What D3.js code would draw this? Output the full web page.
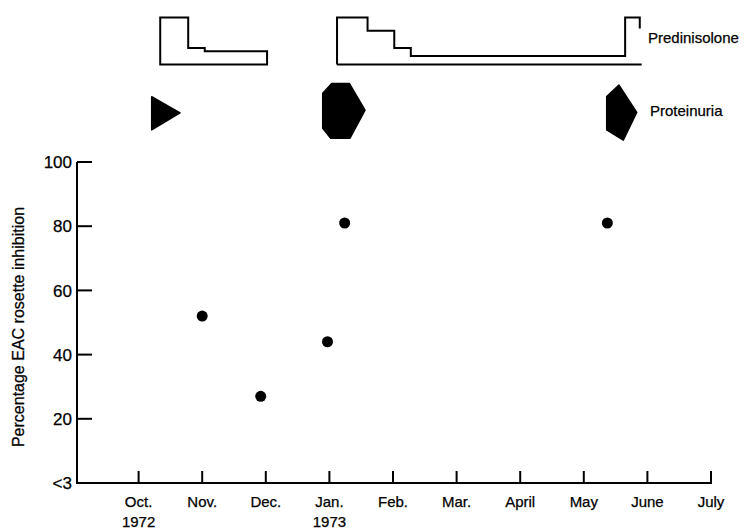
<!DOCTYPE html>
<html>
<head>
<meta charset="utf-8">
<script src="https://cdn.jsdelivr.net/npm/d3@7"></script>
<style>
  html, body { margin: 0; padding: 0; background: #fff; }
  svg text { font-family: "Liberation Sans", Arial, sans-serif; fill: #000; stroke: #000; stroke-width: 0.25px; }
</style>
</head>
<body>
<svg id="chart" width="753" height="529"></svg>
<script>
// ---- Data ----
// month index: 0 = Sep 1972, 1 = Oct 1972, ... 10 = July 1973
const monthTicks = [1, 2, 3, 4, 5, 6, 7, 8, 9, 10];
const monthLabels = ["Oct.", "Nov.", "Dec.", "Jan.", "Feb.", "Mar.", "April", "May", "June", "July"];
const yearTicks = [1, 4];
const yearLabels = ["1972", "1973"];

const yTicks = [0, 20, 40, 60, 80, 100];
const yTickLabels = ["<3", "20", "40", "60", "80", "100"];

// EAC rosette inhibition measurements
const pointMonths = [2.0, 2.92, 3.97, 4.24, 8.37];
const pointValues = [52, 27, 44, 81, 81];

// Prednisolone courses (relative dose levels)
const course1Months = [1.34, 1.78, 2.04, 3.02];
const course1Doses = [60, 21, 17];
const course2Months = [4.12, 4.60, 5.02, 5.28, 8.65, 8.88];
const course2Doses = [60, 43, 21, 11, 60, 46];
const course2BaseEnd = 8.91;

// Proteinuria episodes (polygon vertices: [month, relative level])
const proteinuria1 = [[1.206, 0.54], [1.651, -0.05], [1.206, -0.67]];
const proteinuria2 = [[4.036, 1.02], [4.313, 1.02], [4.560, 0.05], [4.324, -0.97], [4.021, -0.97], [3.895, -0.61], [3.895, 0.66]];
const proteinuria3 = [[8.553, 0.96], [8.832, -0.03], [8.621, -1.04], [8.360, -0.67], [8.360, 0.54]];

// ---- Chart ----
const svg = d3.select("#chart");
const x = d3.scaleLinear().domain([0, 10]).range([75, 711]);
const y = d3.scaleLinear().domain([0, 100]).range([483, 162]);
const doseY = d3.scaleLinear().domain([0, 60]).range([64.5, 17.5]);
const protY = d3.scaleLinear().domain([-1, 1]).range([139, 84]);

const axisX0 = 77;

// Y axis
svg.append("line")
  .attr("x1", axisX0).attr("x2", axisX0)
  .attr("y1", y(100)).attr("y2", y(0))
  .attr("stroke", "#000").attr("stroke-width", 2);
svg.selectAll(".ytick").data(yTicks).join("line")
  .attr("x1", axisX0).attr("x2", axisX0 + 15)
  .attr("y1", d => y(d)).attr("y2", d => y(d))
  .attr("stroke", "#000").attr("stroke-width", 2);
svg.selectAll(".ylab").data(yTicks).join("text")
  .attr("x", 72).attr("y", d => y(d))
  .attr("dy", "0.36em")
  .attr("text-anchor", "end")
  .attr("font-size", 17)
  .text((d, i) => yTickLabels[i]);

// X axis
svg.append("line")
  .attr("x1", axisX0 - 1).attr("x2", x(10) + 1)
  .attr("y1", y(0)).attr("y2", y(0))
  .attr("stroke", "#000").attr("stroke-width", 2);
svg.selectAll(".xtick").data(monthTicks).join("line")
  .attr("x1", d => x(d)).attr("x2", d => x(d))
  .attr("y1", y(0)).attr("y2", y(0) - 12)
  .attr("stroke", "#000").attr("stroke-width", 2);
svg.selectAll(".xlab").data(monthTicks).join("text")
  .attr("x", d => x(d)).attr("y", 507)
  .attr("text-anchor", "middle")
  .attr("font-size", 15)
  .text((d, i) => monthLabels[i]);
svg.selectAll(".yearlab").data(yearTicks).join("text")
  .attr("x", d => x(d)).attr("y", 527)
  .attr("text-anchor", "middle")
  .attr("font-size", 15)
  .text((d, i) => yearLabels[i]);

// Y axis title
svg.append("text")
  .attr("transform", "translate(24,327) rotate(-90)")
  .attr("text-anchor", "middle")
  .attr("font-size", 16)
  .text("Percentage EAC rosette inhibition");

// Points
svg.selectAll(".pt").data(pointMonths).join("circle")
  .attr("cx", d => x(d))
  .attr("cy", (d, i) => y(pointValues[i]))
  .attr("r", 5.5)
  .attr("fill", "#000");

// Prednisolone course 1 (closed outline)
{
  const m = course1Months, dd = course1Doses;
  let p = d3.path();
  p.moveTo(x(m[0]), doseY(0));
  p.lineTo(x(m[0]), doseY(dd[0]));
  for (let i = 1; i < m.length; i++) {
    p.lineTo(x(m[i]), doseY(dd[i - 1]));
    p.lineTo(x(m[i]), i < dd.length ? doseY(dd[i]) : doseY(0));
  }
  p.closePath();
  svg.append("path").attr("d", p.toString())
    .attr("fill", "none").attr("stroke", "#000").attr("stroke-width", 2)
    .attr("stroke-linejoin", "miter");
}
// Prednisolone course 2 (open step line + baseline)
{
  const m = course2Months, dd = course2Doses;
  let p = d3.path();
  p.moveTo(x(m[0]), doseY(0));
  p.lineTo(x(m[0]), doseY(dd[0]));
  for (let i = 1; i < m.length; i++) {
    p.lineTo(x(m[i]), doseY(dd[i - 1]));
    p.lineTo(x(m[i]), doseY(dd[i]));
  }
  svg.append("path").attr("d", p.toString())
    .attr("fill", "none").attr("stroke", "#000").attr("stroke-width", 2);
  svg.append("line")
    .attr("x1", x(m[0])).attr("x2", x(course2BaseEnd))
    .attr("y1", doseY(0)).attr("y2", doseY(0))
    .attr("stroke", "#000").attr("stroke-width", 2);
}

// Proteinuria glyphs
const polyLine = d3.line().x(d => x(d[0])).y(d => protY(d[1]));
[proteinuria1, proteinuria2, proteinuria3].forEach(poly => {
  svg.append("path").attr("d", polyLine(poly) + "Z")
    .attr("fill", "#000").attr("stroke", "#000")
    .attr("stroke-width", 1.5).attr("stroke-linejoin", "round");
});

// Row labels
svg.append("text").attr("x", 648).attr("y", 43)
  .attr("font-size", 15).text("Predinisolone");
svg.append("text").attr("x", 650).attr("y", 116)
  .attr("font-size", 15).text("Proteinuria");
</script>
</body>
</html>
